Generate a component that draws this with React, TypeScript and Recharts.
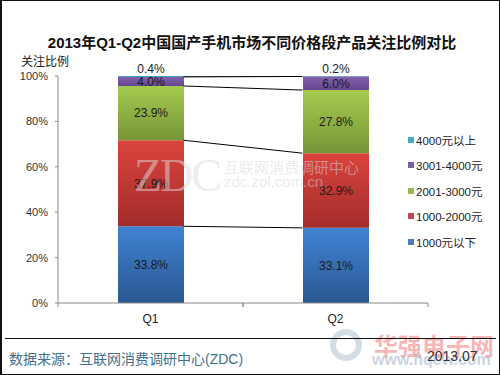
import React from 'react';
import { ComposedChart, Bar, XAxis, YAxis, Scatter, LabelList } from 'recharts';

const categories = ['Q1', 'Q2'];
const under1000 = [33.8, 33.1];
const from1000to2000 = [37.9, 32.9];
const from2001to3000 = [23.9, 27.8];
const from3001to4000 = [4.0, 6.0];
const over4000 = [0.4, 0.2];
const seriesNames = ['1000元以下', '1000-2000元', '2001-3000元', '3001-4000元', '4000元以上'];
const seriesValues = [under1000, from1000to2000, from2001to3000, from3001to4000, over4000];
const yTicks = [0, 20, 40, 60, 80, 100];

const colors = [
  { top: '#4083d2', bottom: '#2b5893', legend: '#4a7ebb' },
  { top: '#dc433d', bottom: '#a22d2a', legend: '#be4b48' },
  { top: '#a5cb4e', bottom: '#769538', legend: '#98b954' },
  { top: '#8461ae', bottom: '#654690', legend: '#7d60a0' },
  { top: '#4cb3cd', bottom: '#3a93ab', legend: '#46aac5' },
];

const W = 500;
const H = 375;
const xAxisH = 30;
const margin = { top: 76, right: 72, bottom: 72 - xAxisH, left: 8 };
const yAxisW = 50;
const barSize = 66;
const plotW = W - margin.left - yAxisW - margin.right;
const band = plotW / categories.length;
const axisY = H - margin.bottom - xAxisH;
const font = "'Liberation Sans', 'Noto Sans CJK SC', sans-serif";

const data = categories.map((q, i) => {
  const row: any = { q };
  seriesValues.forEach((vals, k) => (row['s' + k] = vals[i]));
  return row;
});

const cumulative = categories.map((_, i) => {
  let s = 0;
  return seriesValues.map((v) => (s += v[i]));
});

// connector lines between bar edges, in category units on a hidden numeric axis
const edge = barSize / 2 / band;
const connectors = seriesNames.map((_, k) => [
  { x: 0.5 + edge, y: cumulative[0][k] },
  { x: 1.5 - edge, y: cumulative[1][k] },
]);

const CategoryTick = (props: any) => {
  const { x, payload } = props;
  return (
    <g>
      <line x1={x - band / 2} x2={x - band / 2} y1={axisY} y2={axisY + 4} stroke="#888" />
      <line x1={x + band / 2} x2={x + band / 2} y1={axisY} y2={axisY + 4} stroke="#888" />
      <text x={x} y={axisY + 20} textAnchor="middle" fontSize={12} fill="#222" fontFamily={font}>
        {payload.value}
      </text>
    </g>
  );
};

const Nothing = () => <g />;

export default function App() {
  return (
    <div
      style={{
        position: 'absolute',
        left: 0,
        top: 0,
        width: W,
        height: H,
        boxSizing: 'border-box',
        border: '1px solid #111',
        borderLeftWidth: 2,
        background: '#fff',
        fontFamily: font,
        overflow: 'hidden',
      }}
    >
      <div style={{ position: 'absolute', top: -1, left: -2 }}>
        <ComposedChart width={W} height={H} data={data} margin={margin}>
          <defs>
            {colors.map((c, k) => (
              <linearGradient key={k} id={'grad' + k} x1="0" y1="0" x2="0" y2="1">
                <stop offset="0%" stopColor={c.top} />
                <stop offset="100%" stopColor={c.bottom} />
              </linearGradient>
            ))}
          </defs>
          <XAxis
            xAxisId="cat"
            dataKey="q"
            height={xAxisH}
            tickLine={false}
            axisLine={{ stroke: '#888' }}
            tick={<CategoryTick />}
          />
          <XAxis xAxisId="num" type="number" dataKey="x" domain={[0, 2]} allowDataOverflow hide />
          <YAxis
            width={yAxisW}
            domain={[0, 100]}
            ticks={yTicks}
            tickFormatter={(v) => v + '%'}
            tickSize={3}
            tickMargin={7}
            tickLine={{ stroke: '#888' }}
            axisLine={{ stroke: '#888' }}
            tick={{ fontSize: 11, fill: '#333', fontFamily: font }}
          />
          <YAxis yAxisId="conn" dataKey="y" type="number" domain={[0, 100]} allowDataOverflow hide />
          {seriesNames.map((name, k) => (
            <Bar
              key={name}
              xAxisId="cat"
              dataKey={'s' + k}
              name={name}
              stackId="a"
              barSize={barSize}
              fill={`url(#grad${k})`}
              isAnimationActive={false}
            >
              <LabelList
                dataKey={'s' + k}
                position={k === seriesNames.length - 1 ? 'top' : 'center'}
                offset={3}
                formatter={(v: any) => Number(v).toFixed(1) + '%'}
                style={{ fontSize: 12, fill: '#1a1a1a', fontFamily: font }}
              />
            </Bar>
          ))}
          {connectors.map((pts, k) => (
            <Scatter
              key={'c' + k}
              xAxisId="num"
              yAxisId="conn"
              data={pts}
              line={{ stroke: '#000', strokeWidth: 1 }}
              shape={<Nothing />}
              legendType="none"
              isAnimationActive={false}
            />
          ))}
        </ComposedChart>
      </div>

      <div
        style={{
          position: 'absolute',
          top: 30,
          left: 0,
          width: W,
          textAlign: 'center',
          fontSize: 15,
          fontWeight: 'bold',
          color: '#111',
        }}
      >
        2013年Q1-Q2中国国产手机市场不同价格段产品关注比例对比
      </div>
      <div style={{ position: 'absolute', top: 51, left: 19, fontSize: 12, color: '#222' }}>关注比例</div>

      <div style={{ position: 'absolute', top: 126, left: 406 }}>
        {seriesNames
          .map((name, k) => ({ name, k }))
          .reverse()
          .map(({ name, k }) => (
            <div key={name} style={{ display: 'flex', alignItems: 'center', height: 25.5, fontSize: 11.5, color: '#222' }}>
              <span style={{ width: 6, height: 6, background: colors[k].legend, marginRight: 2 }} />
              {name}
            </div>
          ))}
      </div>

      {/* watermarks */}
      <div style={{ position: 'absolute', left: 0, top: 0, width: W, height: H, pointerEvents: 'none' }}>
        <div
          style={{
            position: 'absolute',
            left: 132,
            top: 148,
            fontSize: 46,
            fontFamily: "'Liberation Serif', serif",
            color: 'rgba(220,220,220,0.5)',
            letterSpacing: -2,
          }}
        >
          ZDC
        </div>
        <div style={{ position: 'absolute', left: 222, top: 155, fontSize: 15, color: 'rgba(215,215,215,0.5)' }}>
          互联网消费调研中心
        </div>
        <div style={{ position: 'absolute', left: 222, top: 172, fontSize: 15, color: 'rgba(215,215,215,0.5)' }}>
          zdc.zol.com.cn
        </div>
        <div
          style={{
            position: 'absolute',
            left: 372,
            top: 326,
            fontSize: 24,
            fontWeight: 'bold',
            color: 'rgba(240,120,120,0.55)',
          }}
        >
          华强电子网
        </div>
        <div
          style={{
            position: 'absolute',
            left: 370,
            top: 350,
            fontSize: 16,
            fontWeight: 'bold',
            color: 'rgba(160,175,200,0.55)',
          }}
        >
          www.hqew.com
        </div>
        <div
          style={{
            position: 'absolute',
            left: 328,
            top: 328,
            width: 32,
            height: 32,
            borderRadius: '50%',
            border: '6px solid rgba(170,185,205,0.5)',
            boxSizing: 'border-box',
          }}
        />
      </div>

      <div style={{ position: 'absolute', left: 3, right: 3, top: 337, borderTop: '1px solid #111' }} />
      <div style={{ position: 'absolute', left: 7, top: 347, fontSize: 14, color: '#43708a' }}>
        数据来源：互联网消费调研中心(ZDC)
      </div>
      <div style={{ position: 'absolute', left: 425, top: 347, fontSize: 14, color: '#333' }}>2013.07</div>
    </div>
  );
}
